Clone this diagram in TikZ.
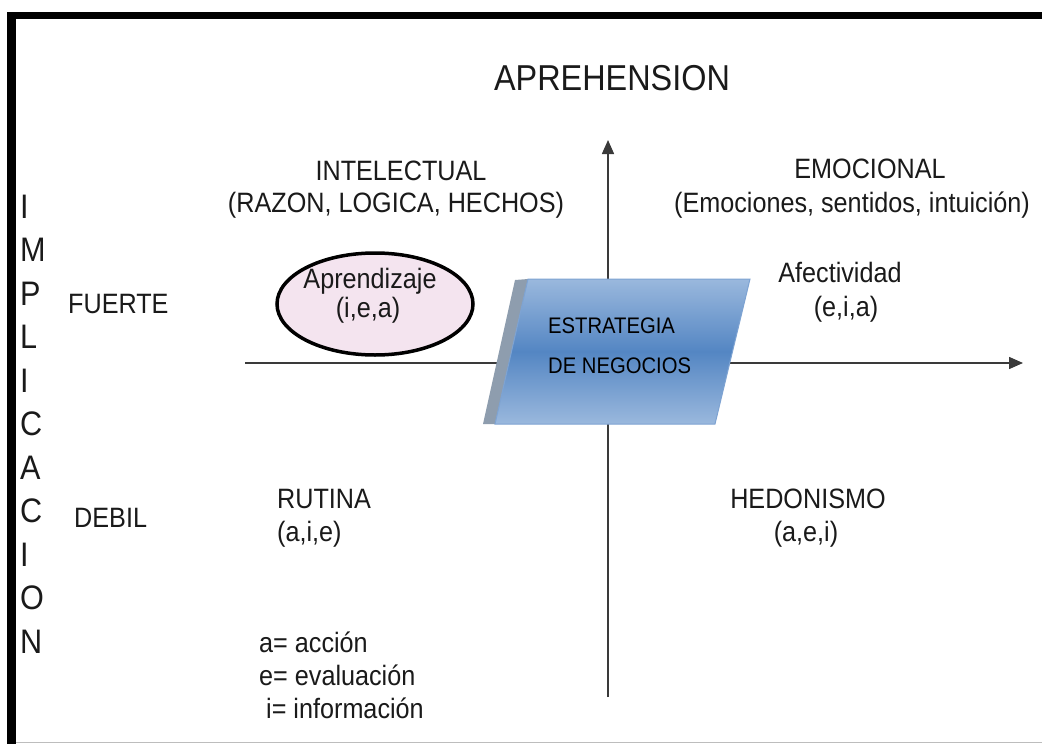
\documentclass[tikz,border=0pt]{standalone}
\usepackage{fontspec}
\setmainfont{Liberation Sans}[FakeStretch=0.9]
\usetikzlibrary{arrows.meta,shapes.geometric}
\definecolor{axisgray}{HTML}{3A3A3A}
\definecolor{txtcol}{HTML}{1A1A1A}
\definecolor{pinkfill}{HTML}{F4E4EF}
\definecolor{blueedge}{HTML}{7EA3D2}
\definecolor{bluelight}{HTML}{9AB8DD}
\definecolor{bluedark}{HTML}{5486C3}
\definecolor{shadowgray}{HTML}{8E9DAE}
\definecolor{bottomgray}{HTML}{BDBDBD}
\begin{document}
\begin{tikzpicture}[x=1pt,y=-1pt,
  txt/.style={inner sep=0pt, text=txtcol, font=\fontsize{28}{32}\selectfont, anchor=base},
  txtw/.style={txt, anchor=base west},
  letter/.style={inner sep=0pt, text=txtcol, font=\fontsize{34}{38}\selectfont, anchor=base west},
  small/.style={inner sep=0pt, text=black, font=\fontsize{22.5}{26}\selectfont, anchor=base west},
  axis/.style={draw=axisgray, line width=1.5pt, -{Triangle[length=14pt,width=12pt]}}]
\useasboundingbox (0,0) rectangle (1042,744);
\fill[white] (0,0) rectangle (1042,744);
% frame
\draw[bottomgray, line width=1.2pt] (16,742.5) -- (1042,742.5);
\fill[black] (7,12) rectangle (1042,19);
\fill[black] (7,12) rectangle (16,744);
% axes
\coordinate (vb) at (608,697);
\coordinate (vt) at (608,140);
\coordinate (hl) at (245,363);
\coordinate (hr) at (1023,363);
\draw[axis] (vb) -- (vt);
\draw[axis] (hl) -- (hr);
% parallelogram with side
\fill[shadowgray] (515,280) -- (528,279) -- (495,424) -- (483,424) -- cycle;
\shade[top color=bluelight, bottom color=bluelight, middle color=bluedark]
  (528,279) -- (750,279) -- (715,424) -- (495,424) -- cycle;
\draw[blueedge, line width=1pt] (528,279) -- (750,279) -- (715,424) -- (495,424) -- cycle;
\node[small] (s1) at (548,333) {ESTRATEGIA};
\node[small] (s2) at (548,373) {DE NEGOCIOS};
% title
\node[txt, font=\fontsize{36}{40}\selectfont] (title) at (612,90) {APREHENSION};
% quadrant headers
\node[txt] (int1) at (401,180) {INTELECTUAL};
\node[txt] (int2) at (396,212) {(RAZON, LOGICA, HECHOS)};
\node[txt] (emo1) at (870,178) {EMOCIONAL};
\node[txt] (emo2) at (852,212) {(Emociones, sentidos, intuición)};
% ellipse
\node[ellipse, draw=black, line width=3.5pt, fill=pinkfill, minimum width=196pt, minimum height=102pt] (elip) at (375,304) {};
\node[txt] (ap1) at (370,288) {Aprendizaje};
\node[txt] (ap2) at (368,317) {(i,e,a)};
% affectivity
\node[txt] (af1) at (840,282) {Afectividad};
\node[txt] (af2) at (846,316) {(e,i,a)};
% lower quadrants
\node[txtw] (ru1) at (277,508) {RUTINA};
\node[txtw] (ru2) at (277,541) {(a,i,e)};
\node[txt] (he1) at (808,508) {HEDONISMO};
\node[txt] (he2) at (806,541) {(a,e,i)};
% left labels
\node[txtw] (fu) at (68,313) {FUERTE};
\node[txtw] (de) at (74,527) {DEBIL};
% vertical word
\foreach \l/\yy [count=\i] in {I/218,M/261.5,P/305,L/348.5,I/392,C/435.5,A/479,C/522.5,I/566,O/609.5,N/653}
  \node[letter] (v\i) at (20,\yy) {\l};
% legend
\node[txtw] (lg1) at (259,652) {a= acción};
\node[txtw] (lg2) at (259,685) {e= evaluación};
\node[txtw] (lg3) at (266,718) {i= información};
\end{tikzpicture}
\end{document}
